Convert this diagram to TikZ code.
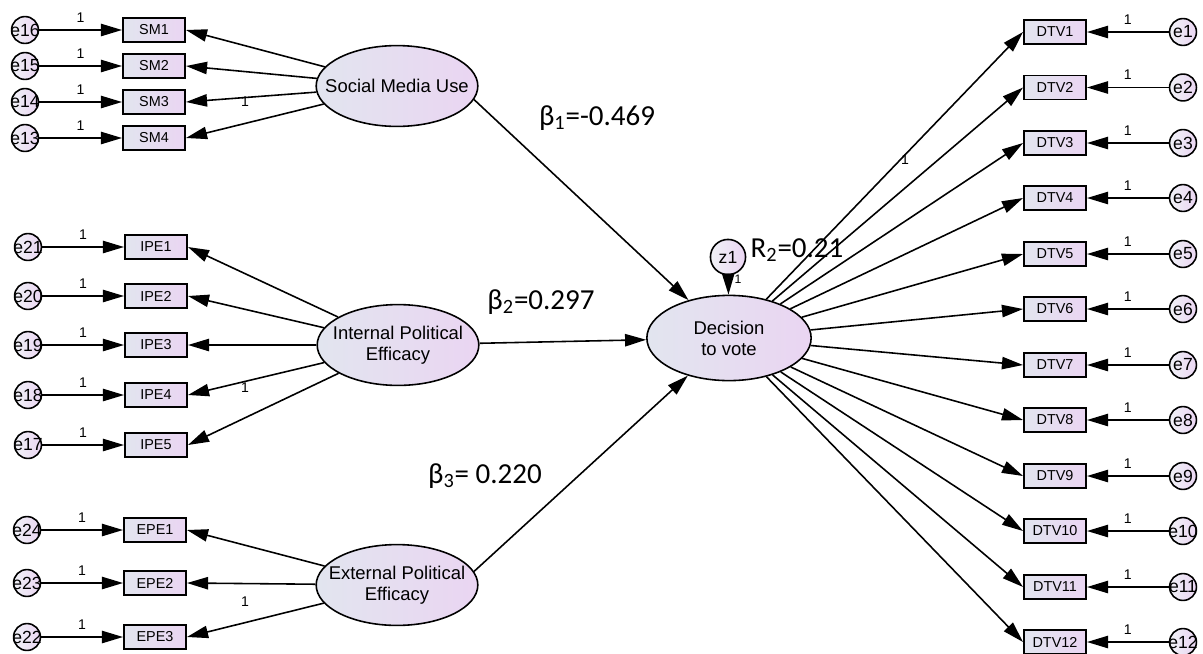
\documentclass[tikz,border=0pt]{standalone}
\usepackage{fontspec}
\setmainfont{Liberation Sans}
\newfontfamily\calfont{Carlito}
\usetikzlibrary{shapes.geometric,arrows.meta}
\definecolor{boxblue}{HTML}{E2E5EF}
\definecolor{boxlilac}{HTML}{EAD5F2}
\tikzset{
  obs/.style={draw, line width=0.9pt, rectangle, minimum width=35.5pt, minimum height=13.5pt, inner sep=0pt, left color=boxblue, right color=boxlilac, font=\fontsize{8.2}{9}\selectfont},
  lat/.style={draw, line width=0.9pt, ellipse, minimum width=92pt, minimum height=46pt, inner xsep=-30pt, inner ysep=0pt, left color=boxblue, right color=boxlilac, align=center, font=\fontsize{10.5}{12}\selectfont},
  err/.style={draw, line width=0.9pt, circle, minimum size=15.3pt, inner sep=-3pt, left color=boxblue!50!white, right color=boxlilac, font=\fontsize{10}{11}\selectfont},
  lnk/.style={draw, line width=0.9pt, -{Triangle[length=12pt,width=7pt]}},
  one/.style={font=\fontsize{8}{9}\selectfont, inner sep=1pt},
  coef/.style={font=\calfont\fontsize{16.5}{18}\selectfont, inner sep=0pt}
}
\begin{document}
\begin{tikzpicture}[x=0.02cm,y=-0.02cm]
\useasboundingbox (0,0) rectangle (1203,653);
% social media use
\node[err] (e16) at (25,30) {e16};
\node[err] (e15) at (25,66) {e15};
\node[err] (e14) at (25,102) {e14};
\node[err] (e13) at (25,138) {e13};
\node[obs] (sm1) at (154,30) {SM1};
\node[obs] (sm2) at (154,66) {SM2};
\node[obs] (sm3) at (154,102) {SM3};
\node[obs] (sm4) at (154,138) {SM4};
\node[lat] (smu) at (397,86) {Social Media Use};
\path[lnk] (e16) -- node[one, above=3pt] {1} (sm1);
\path[lnk] (e15) -- node[one, above=3pt] {1} (sm2);
\path[lnk] (e14) -- node[one, above=3pt] {1} (sm3);
\path[lnk] (e13) -- node[one, above=3pt] {1} (sm4);
\path[lnk] (smu) -- (sm1.east);
\path[lnk] (smu) -- (sm2.east);
\path[lnk] (smu) -- (sm3.east);
\path[lnk] (smu) -- (sm4.east);
\node[one] (l14) at (245,102) {1};

% internal political efficacy
\node[err] (e21) at (28,247) {e21};
\node[err] (e20) at (28,296) {e20};
\node[err] (e19) at (28,345) {e19};
\node[err] (e18) at (28,395) {e18};
\node[err] (e17) at (28,445) {e17};
\node[obs] (ipe1) at (156,247) {IPE1};
\node[obs] (ipe2) at (156,296) {IPE2};
\node[obs] (ipe3) at (156,345) {IPE3};
\node[obs] (ipe4) at (156,395) {IPE4};
\node[obs] (ipe5) at (156,445) {IPE5};
\node[lat] (ipe) at (398,345) {Internal Political\\Efficacy};
\path[lnk] (e21) -- node[one, above=3pt] {1} (ipe1);
\path[lnk] (e20) -- node[one, above=3pt] {1} (ipe2);
\path[lnk] (e19) -- node[one, above=3pt] {1} (ipe3);
\path[lnk] (e18) -- node[one, above=3pt] {1} (ipe4);
\path[lnk] (e17) -- node[one, above=3pt] {1} (ipe5);
\path[lnk] (ipe) -- (ipe1.east);
\path[lnk] (ipe) -- (ipe2.east);
\path[lnk] (ipe) -- (ipe3.east);
\path[lnk] (ipe) -- (ipe4.east);
\path[lnk] (ipe) -- (ipe5.east);
\node[one] (l17) at (245,388) {1};

% external political efficacy
\node[err] (e24) at (27,530) {e24};
\node[err] (e23) at (27,583) {e23};
\node[err] (e22) at (27,637) {e22};
\node[obs] (epe1) at (155,530) {EPE1};
\node[obs] (epe2) at (155,583) {EPE2};
\node[obs] (epe3) at (155,637) {EPE3};
\node[lat] (epe) at (397,585) {External Political\\Efficacy};
\path[lnk] (e24) -- node[one, above=3pt] {1} (epe1);
\path[lnk] (e23) -- node[one, above=3pt] {1} (epe2);
\path[lnk] (e22) -- node[one, above=3pt] {1} (epe3);
\path[lnk] (epe) -- (epe1.east);
\path[lnk] (epe) -- (epe2.east);
\path[lnk] (epe) -- (epe3.east);
\node[one] (l22) at (245,602) {1};

% decision to vote
\node[lat, minimum width=93.5pt, minimum height=48.5pt] (dv) at (729,338) {Decision\\to vote};
\node[err, minimum size=20pt] (z1) at (728,257) {z1};
\path[lnk] (z1) -- (dv);
\node[one, font=\fontsize{7}{8}\selectfont] (lz) at (738,279) {1};
\node[obs] (dtv1) at (1055,32) {DTV1};
\node[obs] (dtv2) at (1055,87.5) {DTV2};
\node[obs] (dtv3) at (1055,143) {DTV3};
\node[obs] (dtv4) at (1055,198) {DTV4};
\node[obs] (dtv5) at (1055,254) {DTV5};
\node[obs] (dtv6) at (1055,309) {DTV6};
\node[obs] (dtv7) at (1055,365) {DTV7};
\node[obs] (dtv8) at (1055,420) {DTV8};
\node[obs] (dtv9) at (1055,476) {DTV9};
\node[obs] (dtv10) at (1055,531) {DTV10};
\node[obs] (dtv11) at (1055,587) {DTV11};
\node[obs] (dtv12) at (1055,642) {DTV12};
\node[err] (e1) at (1183,32) {e1};
\node[err] (e2) at (1183,87.5) {e2};
\node[err] (e3) at (1183,143) {e3};
\node[err] (e4) at (1183,198) {e4};
\node[err] (e5) at (1183,254) {e5};
\node[err] (e6) at (1183,309) {e6};
\node[err] (e7) at (1183,365) {e7};
\node[err] (e8) at (1183,420) {e8};
\node[err] (e9) at (1183,476) {e9};
\node[err] (e10) at (1183,531) {e10};
\node[err] (e11) at (1183,587) {e11};
\node[err] (e12) at (1183,642) {e12};
\path[lnk] (dv) -- (dtv1.west);
\path[lnk] (dv) -- (dtv2.west);
\path[lnk] (dv) -- (dtv3.west);
\path[lnk] (dv) -- (dtv4.west);
\path[lnk] (dv) -- (dtv5.west);
\path[lnk] (dv) -- (dtv6.west);
\path[lnk] (dv) -- (dtv7.west);
\path[lnk] (dv) -- (dtv8.west);
\path[lnk] (dv) -- (dtv9.west);
\path[lnk] (dv) -- (dtv10.west);
\path[lnk] (dv) -- (dtv11.west);
\path[lnk] (dv) -- (dtv12.west);
\path[lnk] (e1) -- node[one, above=3pt] {1} (dtv1);
\path[lnk] (e2) -- node[one, above=3pt] {1} (dtv2);
\path[lnk] (e3) -- node[one, above=3pt] {1} (dtv3);
\path[lnk] (e4) -- node[one, above=3pt] {1} (dtv4);
\path[lnk] (e5) -- node[one, above=3pt] {1} (dtv5);
\path[lnk] (e6) -- node[one, above=3pt] {1} (dtv6);
\path[lnk] (e7) -- node[one, above=3pt] {1} (dtv7);
\path[lnk] (e8) -- node[one, above=3pt] {1} (dtv8);
\path[lnk] (e9) -- node[one, above=3pt] {1} (dtv9);
\path[lnk] (e10) -- node[one, above=3pt] {1} (dtv10);
\path[lnk] (e11) -- node[one, above=3pt] {1} (dtv11);
\path[lnk] (e12) -- node[one, above=3pt] {1} (dtv12);
\node[one] (l1) at (905,160) {1};

% structural paths
\path[lnk] (smu.-10) -- (dv);
\path[lnk] (ipe) -- (dv);
\path[lnk] (epe.10) -- (dv);
\node[coef] (b1) at (597,118) {β\textsubscript{1}=-0.469};
\node[coef] (b2) at (541,302) {β\textsubscript{2}=0.297};
\node[coef] (b3) at (485,476) {β\textsubscript{3}= 0.220};
\node[coef] (r2) at (797,250) {R\textsubscript{2}=0.21};
\end{tikzpicture}
\end{document}
